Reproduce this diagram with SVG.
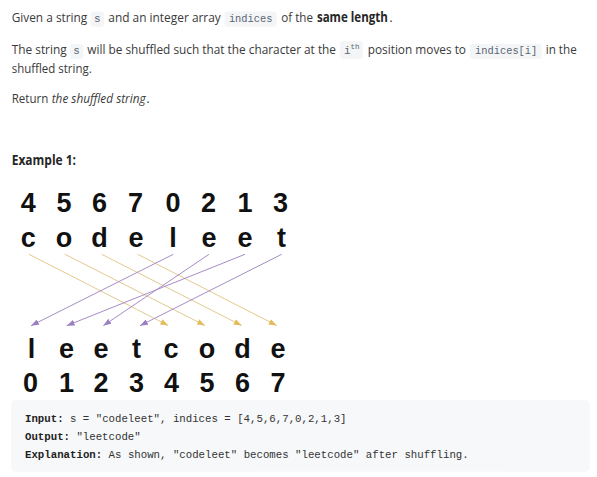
<svg xmlns="http://www.w3.org/2000/svg" width="597" height="477" viewBox="0 0 597 477">
<style>
.t{font-family:"Open Sans","Noto Sans",sans-serif;font-size:13.5px;fill:#3a3a3a}
.b{font-weight:bold;fill:#262626}
.i{font-style:italic}
.c{font-family:"Liberation Mono","DejaVu Sans Mono",monospace;font-size:11px;fill:#5a6672}
.sup{font-size:7.5px}
.cb{fill:#f3f5f7}
.big{font-family:"Liberation Sans",Arial,sans-serif;font-size:27px;font-weight:bold;fill:#111;text-anchor:middle}
.m{font-family:"Liberation Mono","DejaVu Sans Mono",monospace;font-size:11.5px;fill:#333}
.mb{font-weight:bold;fill:#222}
.ly{stroke:#e2c98f;stroke-width:1;fill:none}
.lp{stroke:#a68cc6;stroke-width:1;fill:none}
</style>
<defs>
<marker id="ay" viewBox="0 0 8 6" markerUnits="userSpaceOnUse" markerWidth="8" markerHeight="6" refX="8" refY="3" orient="auto"><path d="M0,0 L8,3 L0,6 z" fill="#e3bd5c"/></marker>
<marker id="ap" viewBox="0 0 8 6" markerUnits="userSpaceOnUse" markerWidth="8" markerHeight="6" refX="8" refY="3" orient="auto"><path d="M0,0 L8,3 L0,6 z" fill="#9a80c0"/></marker>
</defs>
<rect width="597" height="477" fill="#fff"/>

<g id="text-desc">
<text class="t" x="11.7" y="22" textLength="75.6" lengthAdjust="spacingAndGlyphs">Given a string</text>
<rect class="cb" x="90.7" y="11.5" width="13.3" height="15.2" rx="3"/>
<text class="c" x="97.4" y="22" text-anchor="middle">s</text>
<text class="t" x="108.3" y="22" textLength="112.5" lengthAdjust="spacingAndGlyphs">and an integer array</text>
<rect class="cb" x="224.6" y="11.5" width="52" height="15.2" rx="3"/>
<text class="c" x="228.9" y="22" textLength="43.6" lengthAdjust="spacingAndGlyphs">indices</text>
<text class="t" x="281.3" y="22" textLength="31.7" lengthAdjust="spacingAndGlyphs">of the</text>
<text class="t b" x="316.9" y="22" textLength="71" lengthAdjust="spacingAndGlyphs">same length</text>
<text class="t" x="389.2" y="22">.</text>

<text class="t" x="11.7" y="54.4" textLength="55" lengthAdjust="spacingAndGlyphs">The string</text>
<rect class="cb" x="70" y="43.8" width="13.3" height="15.2" rx="3"/>
<text class="c" x="76.6" y="54.4" text-anchor="middle">s</text>
<text class="t" x="87.3" y="54.4" textLength="248.7" lengthAdjust="spacingAndGlyphs">will be shuffled such that the character at the</text>
<rect class="cb" x="340" y="41" width="22.7" height="18" rx="3"/>
<text class="c" x="344" y="54.4">i<tspan class="sup" dy="-5">th</tspan></text>
<text class="t" x="367.7" y="54.4" textLength="98.3" lengthAdjust="spacingAndGlyphs">position moves to</text>
<rect class="cb" x="470" y="43.8" width="71.7" height="15.2" rx="3"/>
<text class="c" x="475" y="54.4" textLength="62.3" lengthAdjust="spacingAndGlyphs">indices[i]</text>
<text class="t" x="545.7" y="54.4" textLength="31" lengthAdjust="spacingAndGlyphs">in the</text>
<text class="t" x="11.7" y="72.7" textLength="80" lengthAdjust="spacingAndGlyphs">shuffled string.</text>

<text class="t" x="11.7" y="103.3" textLength="36.6" lengthAdjust="spacingAndGlyphs">Return</text>
<text class="t i" x="51.7" y="103.3" textLength="94" lengthAdjust="spacingAndGlyphs">the shuffled string</text>
<text class="t" x="146.2" y="103.3">.</text>

<text class="t b" x="11.7" y="165" textLength="64.3" lengthAdjust="spacingAndGlyphs">Example 1:</text>
</g>

<g id="top-indices">
<text class="big" x="28.3" y="212">4</text>
<text class="big" x="64" y="212">5</text>
<text class="big" x="99.5" y="212">6</text>
<text class="big" x="135.5" y="212">7</text>
<text class="big" x="173" y="212">0</text>
<text class="big" x="208.5" y="212">2</text>
<text class="big" x="245" y="212">1</text>
<text class="big" x="280.5" y="212">3</text>
</g>
<g id="top-string">
<text class="big" x="28.3" y="247">c</text>
<text class="big" x="64" y="247">o</text>
<text class="big" x="99.5" y="247">d</text>
<text class="big" x="136" y="247">e</text>
<text class="big" x="173" y="247">l</text>
<text class="big" x="209" y="247">e</text>
<text class="big" x="245" y="247">e</text>
<text class="big" x="281.5" y="247">t</text>
</g>

<g id="connectors">
<line class="ly" x1="29" y1="254.3" x2="168.3" y2="325.5" marker-end="url(#ay)"/>
<line class="ly" x1="65" y1="254.3" x2="205" y2="325.5" marker-end="url(#ay)"/>
<line class="ly" x1="101.7" y1="254.3" x2="241.7" y2="325.5" marker-end="url(#ay)"/>
<line class="ly" x1="137.7" y1="254.3" x2="276.7" y2="325.5" marker-end="url(#ay)"/>
<line class="lp" x1="173.3" y1="254.3" x2="31" y2="325.7" marker-end="url(#ap)"/>
<line class="lp" x1="209" y1="254.3" x2="103.3" y2="325.7" marker-end="url(#ap)"/>
<line class="lp" x1="245" y1="254.3" x2="66.7" y2="325.7" marker-end="url(#ap)"/>
<line class="lp" x1="281.7" y1="254.3" x2="140" y2="325.7" marker-end="url(#ap)"/>
</g>

<g id="bottom-string">
<text class="big" x="31.5" y="358">l</text>
<text class="big" x="66.5" y="358">e</text>
<text class="big" x="101" y="358">e</text>
<text class="big" x="136.5" y="358">t</text>
<text class="big" x="171" y="358">c</text>
<text class="big" x="207" y="358">o</text>
<text class="big" x="242.5" y="358">d</text>
<text class="big" x="278" y="358">e</text>
</g>
<g id="bottom-indices">
<text class="big" x="30.5" y="391.5">0</text>
<text class="big" x="66.5" y="391.5">1</text>
<text class="big" x="101" y="391.5">2</text>
<text class="big" x="136.5" y="391.5">3</text>
<text class="big" x="171.5" y="391.5">4</text>
<text class="big" x="207" y="391.5">5</text>
<text class="big" x="242.5" y="391.5">6</text>
<text class="big" x="278" y="391.5">7</text>
</g>

<g id="example-block">
<rect x="11" y="400" width="579" height="71.7" rx="5" fill="#f7f8fa"/>
<text class="m mb" x="25" y="421.7" textLength="38.6" lengthAdjust="spacingAndGlyphs">Input:</text>
<text class="m" x="70" y="421.7" textLength="276.5" lengthAdjust="spacingAndGlyphs">s = "codeleet", indices = [4,5,6,7,0,2,1,3]</text>
<text class="m mb" x="25" y="440" textLength="45" lengthAdjust="spacingAndGlyphs">Output:</text>
<text class="m" x="76.4" y="440" textLength="64.3" lengthAdjust="spacingAndGlyphs">"leetcode"</text>
<text class="m mb" x="25" y="457.7" textLength="77.2" lengthAdjust="spacingAndGlyphs">Explanation:</text>
<text class="m" x="108.6" y="457.7" textLength="360.1" lengthAdjust="spacingAndGlyphs">As shown, "codeleet" becomes "leetcode" after shuffling.</text>
</g>
</svg>
